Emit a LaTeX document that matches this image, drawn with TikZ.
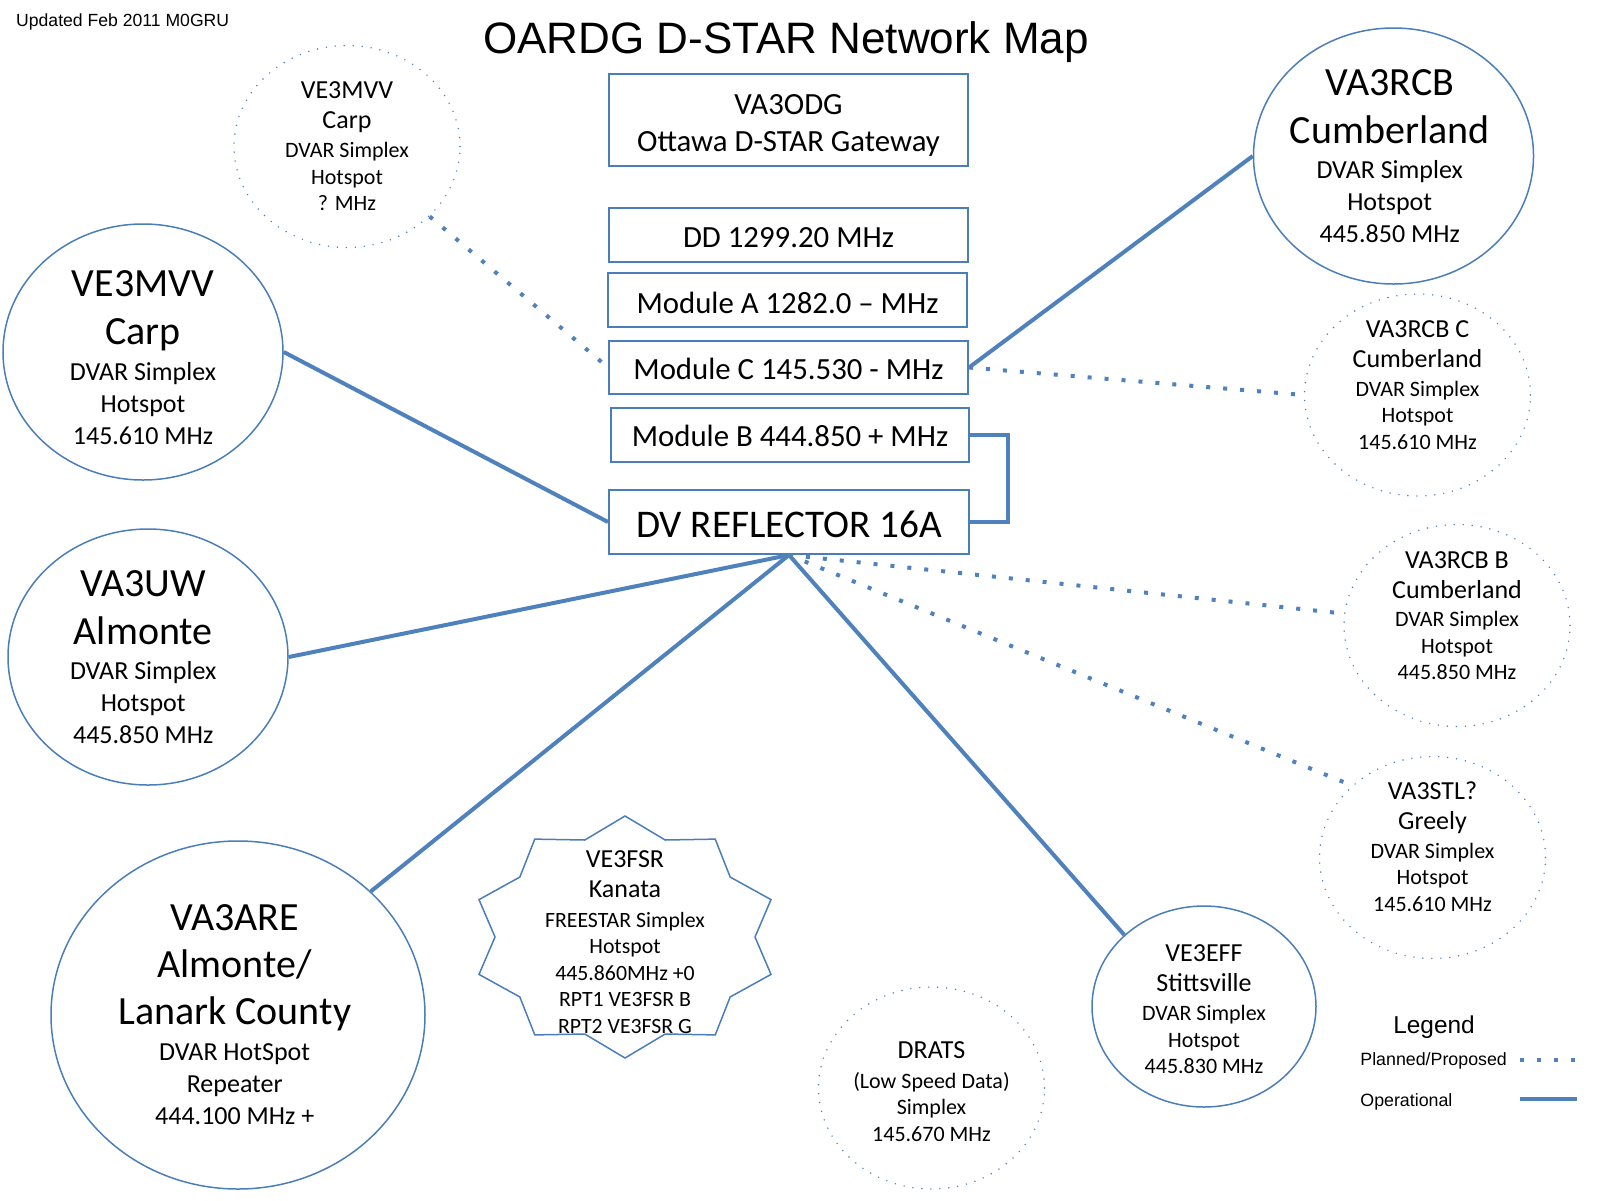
\documentclass[tikz,border=0pt]{standalone}
\usepackage{fontspec}
\setmainfont{Carlito}
\newfontfamily\arialf{Liberation Sans}
\usetikzlibrary{shapes.geometric}
\definecolor{edgeblue}{RGB}{74,126,187}
\definecolor{lineblue}{RGB}{79,129,189}
\newcommand\lgln[1]{{\fontsize{20}{24}\selectfont #1}}
\newcommand\mdln[1]{{\fontsize{13}{16}\selectfont #1}}
\newcommand\opfont{\fontsize{13}{16}\selectfont\lineskiplimit=-100pt\relax}
\newcommand\plfont{\fontsize{11}{13.3}\selectfont\lineskiplimit=-100pt\relax}
\newcommand\stfont{\fontsize{10.9}{13}\selectfont\lineskiplimit=-100pt\relax}
\newcommand\bxfont{\fontsize{15.4}{18.7}\selectfont\lineskiplimit=-100pt\relax}
\newcommand\upstrut[1]{\rule{0pt}{#1}}
\newcommand\downstrut[1]{\rule[-#1]{0pt}{#1}}
\newcommand\lsh[1]{\hbox to #1{}}
\begin{document}
\begin{tikzpicture}[x=0.5pt,y=-0.5pt,
  opnode/.style={ellipse, draw=edgeblue, line width=0.75pt, inner sep=-20pt,
    minimum width=140pt, minimum height=128pt, align=center, font=\opfont},
  plnode/.style={ellipse, draw=edgeblue, line width=0.8pt, line cap=round,
    dash pattern=on 0pt off 4.5pt, inner sep=-20pt,
    minimum width=113pt, minimum height=101pt, align=center, font=\plfont},
  smnode/.style={ellipse, draw=edgeblue, line width=0.75pt, inner sep=-20pt,
    minimum width=112pt, minimum height=100.5pt, align=center, font=\plfont},
  boxst/.style={draw=edgeblue, line width=1pt, inner sep=0pt,
    minimum width=179.5pt, minimum height=27pt, align=center, font=\bxfont,
    text height=12.3pt, text depth=0pt},
  oper/.style={draw=lineblue, line width=2pt},
  plan/.style={draw=lineblue, line width=2pt, dash pattern=on 2pt off 6.5pt},
  shapeline/.style={draw=edgeblue, line width=0.75pt, line join=miter}
]
\useasboundingbox (0,0) rectangle (1600,1200);

% titles
\node[font=\arialf\fontsize{22}{26}\selectfont, anchor=base, inner sep=0pt] (title) at (786,53.4) {OARDG D-STAR Network Map};
\node[font=\arialf\fontsize{8.8}{10}\selectfont, anchor=base west, inner sep=0pt] (upd) at (15.8,26.9) {Updated Feb 2011 M0GRU};

% central boxes
\node[draw=edgeblue, line width=1pt, inner sep=0pt, minimum width=179.5pt, minimum height=46pt, align=center, font=\bxfont] (odg) at (788.5,120) {\upstrut{15.2pt}VA3ODG\\Ottawa D-STAR Gateway};
\node[boxst] (dd) at (788.5,235) {DD 1299.20 MHz};
\node[boxst, text height=13pt] (moda) at (787.5,300) {Module A 1282.0 -- MHz};
\node[boxst, minimum height=26.5pt, text height=11.8pt] (modc) at (788.5,367.5) {Module C 145.530 - MHz};
\node[boxst, minimum width=179pt, text height=11.8pt] (modb) at (790,435) {Module B 444.850 + MHz};
\node[boxst, minimum width=180pt, minimum height=32pt, font=\fontsize{19.6}{23}\selectfont, text height=15.3pt] (dv) at (789,522) {DV REFLECTOR 16A};

% operational stations
\node[opnode] (carp) at (143,352) {\lgln{VE3MVV}\upstrut{18.7pt}\\[8pt]\lgln{Carp}\\[2pt]DVAR Simplex\\Hotspot\\145.610 MHz};
\node[opnode] (rcb) at (1393.5,156) {\lgln{VA3RCB}\lsh{3.8pt}\\[7.8pt]\lgln{Cumberland}\lsh{3.8pt}\\[1.5pt]DVAR Simplex\lsh{3.8pt}\\Hotspot\lsh{3.8pt}\\445.850 MHz\lsh{3.8pt}};
\node[opnode] (uw) at (148,657) {\lgln{VA3UW}\lsh{4.8pt}\\[8pt]\lgln{Almonte}\lsh{4.8pt}\\[1.5pt]DVAR Simplex\lsh{4.8pt}\\Hotspot\lsh{4.8pt}\\445.850 MHz\lsh{4.8pt}};
\node[opnode, minimum width=187pt, minimum height=174pt] (are) at (238,1015) {\lgln{VA3ARE}\lsh{3.3pt}\\[7.5pt]\lgln{Almonte/}\lsh{3.3pt}\\[7.5pt]\lgln{Lanark County}\lsh{3.3pt}\\[2pt]DVAR HotSpot\lsh{3.3pt}\\Repeater\lsh{3.3pt}\\444.100 MHz +\lsh{3.3pt}};
\node[smnode] (eff) at (1204,1006.5) {\mdln{VE3EFF}\upstrut{11.4pt}\\[1.7pt]\mdln{Stittsville}\\[1pt]DVAR Simplex\\Hotspot\\445.830 MHz};

% planned stations
\node[plnode] (mvvd) at (347,146.5) {\mdln{VE3MVV}\\[1.7pt]\mdln{Carp}\\[1pt]DVAR Simplex\\Hotspot\\? MHz};
\node[plnode] (rcbc) at (1417.5,395) {\mdln{VA3RCB C}\\[1.7pt]\mdln{Cumberland}\\[1pt]DVAR Simplex\\Hotspot\\145.610 MHz\downstrut{10pt}};
\node[plnode] (rcbb) at (1457,625.5) {\mdln{VA3RCB B}\\[1.7pt]\mdln{Cumberland}\\[1pt]DVAR Simplex\\Hotspot\\445.850 MHz\downstrut{10pt}};
\node[plnode] (stl) at (1432.5,857.5) {\mdln{VA3STL?}\\[1.7pt]\mdln{Greely}\\[1pt]DVAR Simplex\\Hotspot\\145.610 MHz\downstrut{11pt}};
\node[plnode] (drats) at (931.5,1088) {\mdln{DRATS}\upstrut{12pt}\\[1.7pt](Low Speed Data)\\Simplex\\145.670 MHz};

% VE3FSR star
\node[inner sep=0pt, align=center, font=\stfont] (fsr) at (625,942) {\mdln{VE3FSR}\\[2pt]\mdln{Kanata}\\[2pt]FREESTAR Simplex\\[0.3pt]Hotspot\\[0.3pt]445.860MHz +0\\[0.3pt]RPT1 VE3FSR B\\[0.3pt]RPT2 VE3FSR G};
\foreach \k in {0,...,19}{
  \pgfmathsetmacro{\srx}{mod(\k,2)==0 ? 153.5 : 130}
  \pgfmathsetmacro{\sry}{mod(\k,2)==0 ? 121 : 102}
  \coordinate (s\k) at ({625+\srx*cos(90+18*\k)},{937-\sry*sin(90+18*\k)});
}
\draw[shapeline] (s0) \foreach \k in {1,...,19}{ -- (s\k)} -- cycle;

% operational connectors
\draw[oper] (carp.east) -- (dv.west);
\draw[oper] (uw.east) -- (dv.south);
\draw[oper] (are.north east) -- (dv.south);
\draw[oper] (dv.south) -- (eff.north west);
\draw[oper] (modc.east) -- (rcb.west);
\draw[oper] (modb.east) -- ++(38,0) |- (dv.east);

% planned connectors
\draw[plan] (mvvd) -- (modc.west);
\draw[plan] (modc.east) -- (rcbc.west);
\draw[plan] (dv.south) -- (rcbb);
\draw[plan] (dv.south) -- (stl.north west);

% legend
\node[font=\arialf\fontsize{12.2}{14}\selectfont, anchor=base, inner sep=0pt] (leg) at (1434,1033) {Legend};
\node[font=\arialf\fontsize{8.9}{10}\selectfont, anchor=base west, inner sep=0pt] (legp) at (1360,1065) {Planned/Proposed};
\node[font=\arialf\fontsize{8.9}{10}\selectfont, anchor=base west, inner sep=0pt] (lego) at (1360,1106) {Operational};
\coordinate (lp1) at (1520,1060);
\coordinate (lp2) at (1577,1060);
\coordinate (lo1) at (1520,1099);
\coordinate (lo2) at (1577,1099);
\draw[plan] (lp1) -- (lp2);
\draw[oper] (lo1) -- (lo2);
\end{tikzpicture}
\end{document}
